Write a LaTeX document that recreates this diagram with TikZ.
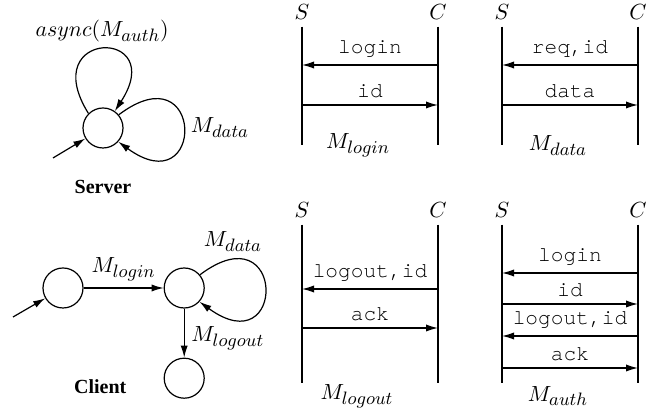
\documentclass[tikz,border=0pt]{standalone}
\usepackage{fontspec}
\setmainfont{Liberation Serif}
\setmonofont{TeX Gyre Cursor}
\DeclareMathSizes{11}{11}{9.5}{7}
\usepackage{tikz}
\usetikzlibrary{arrows.meta,positioning}

\begin{document}
\begin{tikzpicture}[->,>={Latex[length=6pt,width=3.6pt]},x=0.5pt,y=0.5pt,line width=0.6pt,node distance=40pt,
		every node/.style={font=\fontsize{11}{13}\selectfont}]
		\tikzstyle{state_node}=[circle,draw=black,fill=white,minimum size=20pt,inner sep=0pt]
		\tikzstyle{msg_text}=[font=\ttfamily\fontsize{10.6}{12}\selectfont]
		\tikzstyle{life_line}=[-]
		\tikzstyle{role}=[font=\fontsize{10}{12}\selectfont\bfseries]
		
		\useasboundingbox (0,0) rectangle (668,411);
		
		% server automaton
		\node[state_node] (server) at (103,283) {};
		\node[role] (label_server) [below=12pt of server] {Server};
		\coordinate (server_in) at (53,253);
		\draw (server_in) -- (server);
		\draw (server.135) .. controls +(122:100) and +(57:100) .. node[pos=0.5,above] {$async(M_{auth})$} (server.55);
		\draw (server.40) .. controls +(37:108) and +(-36:108) .. node[pos=0.5,right] {$M_{data}$} (server.-42);
		
		% client automaton
		\node[state_node] (client_start) at (63,123) {};
		\node[state_node] (client_on) [right=of client_start] {};
		\node[state_node] (client_off) [below=24.5pt of client_on] {};
		\node[role] (label_client) [left=15pt of client_off,yshift=-4pt] {Client};
		\coordinate (client_in) at (13,94);
		\draw (client_in) -- (client_start);
		\draw (client_start) -- node[above] {$M_{login}$} (client_on);
		\draw (client_on) -- node[pos=0.6,right] {$M_{logout}$} (client_off);
		\draw (client_on.40) .. controls +(37:108) and +(-36:108) .. node[pos=0.15,above] {$M_{data}$} (client_on.-42);
		
		% message rows
		\coordinate (row_a) at (0,346);
		\coordinate (row_b) at (0,306);
		\coordinate (end_top) at (0,266);
		\coordinate (row_c) at (0,122);
		\coordinate (row_d) at (0,83);
		\coordinate (row_e) at (0,138);
		\coordinate (row_f) at (0,107);
		\coordinate (row_g) at (0,75);
		\coordinate (row_h) at (0,43);
		\coordinate (end_bottom) at (0,28);
		
		% M_login
		\node (s_login) at (302,399) {$S$};
		\node (c_login) at (438,399) {$C$};
		\draw[life_line] (s_login.south) -- (s_login |- end_top);
		\draw[life_line] (c_login.south) -- (c_login |- end_top);
		\draw (c_login |- row_a) -- node[above,msg_text] {login} (s_login |- row_a);
		\draw (s_login |- row_b) -- node[above,msg_text] {id} (c_login |- row_b);
		\node (m_login) at (358,266) {$M_{login}$};
		
		% M_data
		\node (s_data) at (502,399) {$S$};
		\node (c_data) at (638,399) {$C$};
		\draw[life_line] (s_data.south) -- (s_data |- end_top);
		\draw[life_line] (c_data.south) -- (c_data |- end_top);
		\draw (c_data |- row_a) -- node[above,msg_text] {req,id} (s_data |- row_a);
		\draw (s_data |- row_b) -- node[above,msg_text] {data} (c_data |- row_b);
		\node (m_data) at (558,265) {$M_{data}$};
		
		% M_logout
		\node (s_logout) at (302,201) {$S$};
		\node (c_logout) at (438,201) {$C$};
		\draw[life_line] (s_logout.south) -- (s_logout |- end_bottom);
		\draw[life_line] (c_logout.south) -- (c_logout |- end_bottom);
		\draw (c_logout |- row_c) -- node[above,msg_text] {logout,id} (s_logout |- row_c);
		\draw (s_logout |- row_d) -- node[above,msg_text] {ack} (c_logout |- row_d);
		\node (m_logout) at (357,15) {$M_{logout}$};
		
		% M_auth
		\node (s_auth) at (502,201) {$S$};
		\node (c_auth) at (638,201) {$C$};
		\draw[life_line] (s_auth.south) -- (s_auth |- end_bottom);
		\draw[life_line] (c_auth.south) -- (c_auth |- end_bottom);
		\draw (c_auth |- row_e) -- node[above,msg_text] {login} (s_auth |- row_e);
		\draw (s_auth |- row_f) -- node[above,msg_text] {id} (c_auth |- row_f);
		\draw (c_auth |- row_g) -- node[above,msg_text] {logout,id} (s_auth |- row_g);
		\draw (s_auth |- row_h) -- node[above,msg_text] {ack} (c_auth |- row_h);
		\node (m_auth) at (558,15) {$M_{auth}$};
	\end{tikzpicture}
\end{document}
